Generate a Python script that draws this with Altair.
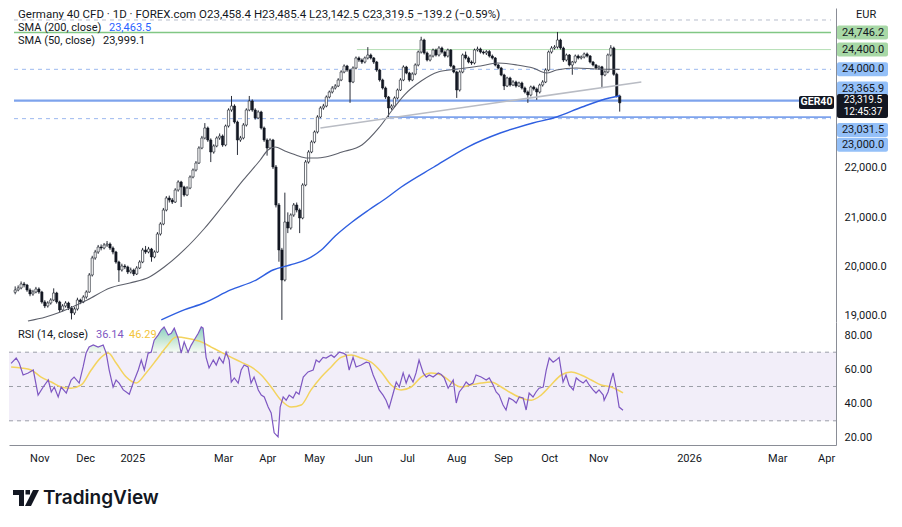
import altair as alt
import pandas as pd

# ---------------- data ----------------
opens = [19480, 19527, 19568, 19649, 19628, 19527, 19446, 19486, 19547, 19486,
         19284, 19203, 19263, 19324, 19466, 19284, 19122, 19203, 19263, 19162,
         19061, 19142, 19324, 19284, 19385, 19486, 19831, 20176, 20297, 20398,
         20378, 20439, 20459, 20378, 20297, 20094, 19932, 20013, 19993, 19892,
         19932, 19851, 19973, 20094, 20338, 20297, 20358, 20196, 20297, 20662,
         20865, 21148, 21392, 21351, 21310, 21554, 21716, 21615, 21453, 21594,
         21817, 21959, 22101, 22405, 22608, 22811, 22567, 22324, 22446, 22608,
         22648, 22466, 22851, 23176, 23256, 22932, 22567, 22608, 22871, 23176,
         23358, 23176, 23014, 23135, 22811, 22567, 22405, 22567, 22020, 21250,
         20338, 19729, 20905, 20784, 21047, 21250, 21148, 20986, 21655, 22121,
         22324, 22527, 22730, 23034, 23216, 23256, 23439, 23540, 23621, 23662,
         23784, 23946, 24067, 23986, 23743, 24027, 24230, 24189, 24148, 24230,
         24290, 24230, 24148, 23986, 23784, 23621, 23439, 23216, 23256, 23419,
         23581, 23784, 24047, 23925, 23784, 23905, 24088, 24351, 24594, 24331,
         24189, 24270, 24392, 24290, 24432, 24351, 24270, 24392, 24067, 23946,
         23581, 23946, 24290, 24230, 24148, 24128, 24392, 24412, 24351, 24331,
         24360, 24270, 24230, 24088, 24027, 23885, 23662, 23824, 23682, 23743,
         23662, 23723, 23621, 23540, 23480, 23642, 23601, 23540, 23682, 23743,
         23986, 24351, 24432, 24452, 24594, 24432, 24189, 24290, 24088, 24148,
         24270, 24230, 24250, 24311, 24270, 24148, 24088, 24027, 24050, 23885,
         23946, 24290, 24432, 23900, 23458.4]
highs = [19600, 19620, 19700, 19690, 19650, 19560, 19530, 19590, 19580, 19510,
         19320, 19300, 19360, 19560, 19490, 19310, 19240, 19300, 19290, 19200,
         19180, 19370, 19350, 19420, 19520, 19870, 20220, 20340, 20440, 20450,
         20480, 20520, 20490, 20410, 20320, 20120, 20060, 20050, 20020, 19980,
         19960, 20010, 20130, 20380, 20420, 20400, 20380, 20330, 20700, 20900,
         21190, 21430, 21440, 21390, 21590, 21750, 21740, 21640, 21630, 21850,
         21990, 22140, 22440, 22650, 22910, 22840, 22600, 22480, 22640, 22700,
         22680, 22880, 23210, 23460, 23290, 22960, 22650, 22910, 23210, 23460,
         23390, 23210, 23170, 23160, 22840, 22600, 22600, 22590, 22060, 21290,
         20380, 21500, 21100, 21080, 21290, 21300, 21180, 21690, 22160, 22360,
         22560, 22760, 23070, 23250, 23300, 23470, 23570, 23660, 23700, 23820,
         23980, 24100, 24090, 24010, 24060, 24260, 24260, 24220, 24260, 24450,
         24320, 24250, 24170, 24010, 23810, 23650, 23460, 23290, 23450, 23610,
         23820, 24080, 24070, 23950, 23940, 24120, 24380, 24660, 24620, 24360,
         24300, 24420, 24420, 24470, 24460, 24380, 24420, 24410, 24090, 23970,
         23980, 24320, 24360, 24260, 24180, 24420, 24460, 24440, 24380, 24390,
         24390, 24300, 24250, 24110, 24050, 23910, 23850, 23850, 23780, 23770,
         23750, 23750, 23650, 23570, 23670, 23670, 23630, 23710, 23780, 24020,
         24380, 24470, 24490, 24757, 24620, 24460, 24320, 24310, 24170, 24300,
         24300, 24280, 24340, 24340, 24290, 24170, 24110, 24080, 24070, 23980,
         24320, 24490, 24460, 23930, 23485.4]
lows = [19440, 19500, 19540, 19580, 19490, 19400, 19410, 19460, 19450, 19250,
        19160, 19170, 19230, 19300, 19250, 19080, 19090, 19170, 19120, 18930,
        19020, 19110, 19240, 19260, 19350, 19470, 19800, 20140, 20260, 20330,
        20350, 20400, 20340, 20250, 20060, 19690, 19900, 19950, 19850, 19860,
        19810, 19830, 19950, 20070, 20260, 20270, 20100, 20170, 20280, 20630,
        20840, 21120, 21300, 21270, 21290, 21520, 21210, 21420, 21430, 21570,
        21790, 21930, 22080, 22380, 22580, 22530, 22120, 22290, 22420, 22570,
        22430, 22440, 22820, 23140, 22900, 22264, 22530, 22580, 22840, 23150,
        23140, 22980, 22990, 22780, 22530, 22250, 22380, 21980, 21200, 20100,
        18920, 19700, 20680, 20750, 21010, 21100, 20680, 20960, 21630, 22090,
        22300, 22500, 22700, 23010, 23180, 23230, 23410, 23510, 23590, 23640,
        23760, 23920, 23950, 23320, 23720, 24000, 24150, 24110, 24120, 24200,
        24200, 24110, 23950, 23750, 23590, 23400, 23030, 23180, 23230, 23390,
        23560, 23760, 23900, 23750, 23760, 23880, 24060, 24320, 24300, 24160,
        24160, 24240, 24260, 24260, 24320, 24240, 24240, 24040, 23920, 23420,
        23550, 23920, 24200, 24120, 24090, 24100, 24360, 24320, 24300, 24290,
        24240, 24200, 24060, 24000, 23860, 23580, 23640, 23650, 23660, 23630,
        23640, 23590, 23510, 23320, 23450, 23570, 23380, 23510, 23650, 23720,
        23960, 24320, 24400, 24420, 24400, 24150, 24160, 24060, 23890, 24120,
        24200, 24200, 24220, 24240, 24120, 24060, 24000, 23990, 23620, 23860,
        23920, 24260, 23870, 23430, 23142.5]
closes = [19527, 19568, 19649, 19628, 19527, 19446, 19486, 19547, 19486, 19284,
          19203, 19263, 19324, 19466, 19284, 19122, 19203, 19263, 19162, 19061,
          19142, 19324, 19284, 19385, 19486, 19831, 20176, 20297, 20398, 20378,
          20439, 20459, 20378, 20297, 20094, 19932, 20013, 19993, 19892, 19932,
          19851, 19973, 20094, 20338, 20297, 20358, 20196, 20297, 20662, 20865,
          21148, 21392, 21351, 21310, 21554, 21716, 21615, 21453, 21594, 21817,
          21959, 22101, 22405, 22608, 22811, 22567, 22324, 22446, 22608, 22648,
          22466, 22851, 23176, 23256, 22932, 22567, 22608, 22871, 23176, 23358,
          23176, 23014, 23135, 22811, 22567, 22405, 22567, 22020, 21250, 20338,
          19729, 20905, 20784, 21047, 21250, 21148, 20986, 21655, 22121, 22324,
          22527, 22730, 23034, 23216, 23256, 23439, 23540, 23621, 23662, 23784,
          23946, 24067, 23986, 23743, 24027, 24230, 24189, 24148, 24230, 24290,
          24230, 24148, 23986, 23784, 23621, 23439, 23216, 23256, 23419, 23581,
          23784, 24047, 23925, 23784, 23905, 24088, 24351, 24594, 24331, 24189,
          24270, 24392, 24290, 24432, 24351, 24270, 24392, 24067, 23946, 23581,
          23946, 24290, 24230, 24148, 24128, 24392, 24412, 24351, 24331, 24360,
          24270, 24230, 24088, 24027, 23885, 23662, 23824, 23682, 23743, 23662,
          23723, 23621, 23540, 23480, 23642, 23601, 23540, 23682, 23743, 23986,
          24351, 24432, 24452, 24594, 24432, 24189, 24290, 24088, 24148, 24270,
          24230, 24250, 24311, 24270, 24148, 24088, 24027, 24050, 23885, 23946,
          24290, 24432, 23900, 23459, 23319.5]

sma50_bar = [4.3, 10.3, 15.3, 24.3, 32, 38.7, 45.3, 50.3, 57, 63.7, 70.3, 77, 82.7,
             85.3, 87.7, 91, 94.7, 98.7, 102, 104.7, 110.3, 117, 122.7, 127, 131.3,
             137, 142.7, 149.3, 157, 162.7, 169.3, 174.7, 179.3, 182.7, 189.3, 196, 204]
sma50_val = [18899, 18980, 19081, 19324, 19568, 19669, 19791, 19993, 20338, 20763,
             21250, 21757, 22162, 22365, 22425, 22344, 22263, 22202, 22202, 22222,
             22324, 22466, 22811, 23155, 23479, 23763, 23946, 24006, 24067, 24128,
             24088, 24027, 23925, 23986, 24027, 24006, 23999.1]
sma200_bar = [49.3, 57, 63.7, 72.7, 81.3, 87, 92.7, 98, 103.3, 108, 113.7, 119.3,
              125.3, 130.3, 141.3, 152.7, 163.7, 174.7, 182.7, 191.3, 198, 204]
sma200_val = [18919, 19122, 19263, 19527, 19729, 19932, 20034, 20135, 20338, 20621,
              20905, 21148, 21392, 21615, 22020, 22425, 22709, 22912, 23034, 23236,
              23378, 23463.5]
trend_bar = [103.0, 211.3]
trend_val = [22811, 23743]

level_price = [25000.0, 24746.2, 24400.0, 24000.0, 23365.9, 23031.5, 23000.0]
level_from = [-0.4, -0.4, 115.3, -0.4, -0.4, 126.3, -0.4]

badge_price = [24746.2, 24400.0, 24000.0, 23365.9, 23031.5, 23000.0]
last_price = 23319.5
last_time = "12:45:37"

rsi_bar = [0.3, 2, 3, 4.3, 6, 7.7, 9.3, 11, 12.7, 13.7,
           14.7, 16, 17, 18.7, 20.3, 21.3, 23, 24.3, 25.3, 26.3,
           27.7, 29.3, 31, 32, 33, 34.3, 35.3, 36.3, 37.7, 38.7,
           39.7, 41, 42.7, 43.7, 44.7, 46, 47, 48, 49.3, 50.3,
           51.3, 52.7, 53.7, 54.7, 56, 57, 58, 59.3, 60.3, 61.3,
           62.7, 63.7, 64.3, 65.3, 66.3, 67.7, 68.7, 69.7, 71, 72,
           73, 73.7, 74.7, 76, 77, 78, 79.3, 80.3, 81.3, 82.7,
           83.7, 84.7, 86, 87, 88, 89.3, 90, 91, 92, 93,
           94.3, 95.3, 96.3, 97.7, 99.3, 101, 102, 103, 104.3, 105.3,
           107, 108, 109.7, 111, 112, 113, 114.3, 115.3, 117, 118.7,
           119.7, 121, 122, 123, 124.3, 125.3, 126.3, 127.7, 128.7, 129.7,
           131, 132, 133, 134.3, 135.3, 136.3, 137.7, 138.7, 139.7, 141,
           142.7, 143.7, 144.7, 146, 147.7, 148.7, 149.7, 151, 152, 153,
           154.3, 155.3, 157, 158.7, 159.7, 161, 162, 163, 164.3, 165.3,
           166.3, 167.7, 168.7, 169.7, 171, 172, 173, 174.3, 175.3, 176.3,
           177.7, 178.7, 179.7, 181, 182, 183, 184.3, 185.3, 186.3, 187.7,
           188.7, 189.7, 191, 192, 193, 194.3, 195.3, 196.3, 197.7, 198,
           199.3, 200.3, 201, 202, 203, 204.3]
rsi_val = [63.5, 66.6, 63.7, 56.7, 57.9, 59.6, 45, 49.7, 53.8, 46.8,
           49.7, 43.9, 49.7, 46.2, 53.8, 55.5, 52, 61.4, 69.5, 73,
           74.2, 73, 74.2, 69.5, 59.6, 49.7, 53.8, 52, 48, 46.8,
           45.5, 52, 59.6, 65.4, 59.6, 69.5, 70, 77, 80, 82.9,
           84.7, 80, 81, 84, 78, 69.5, 76, 70, 74, 77,
           81, 84.7, 84, 67, 60.8, 65.4, 62.5, 67, 63.7, 70,
           65.4, 52.6, 55, 52, 59.6, 62.5, 61.4, 52, 55.5, 48,
           45, 43.9, 38, 34.6, 23, 20.6, 38, 43.9, 42, 45,
           43.3, 46.8, 45.5, 55.5, 58.5, 59.6, 65.4, 64.2, 67, 66.6,
           68.4, 67, 70, 69.5, 68.4, 59.6, 67, 61.4, 62.5, 64.2,
           63.7, 56.7, 52.6, 48, 45, 42, 37.4, 46.2, 52.6, 49.7,
           57.9, 52, 56.7, 52.6, 57.9, 65.4, 57.9, 55.5, 56.7, 55.5,
           57.9, 57, 55, 49, 53.8, 40.4, 46.8, 49.7, 52.6, 50.9,
           52, 56.7, 55.5, 53.8, 55, 50.9, 46.8, 45, 39.2, 36.3,
           43.3, 42, 40.4, 43.9, 43.3, 36.3, 46.2, 43.9, 46.8, 49,
           49.7, 59.6, 66.6, 64.2, 65.4, 67, 52.6, 56.7, 50.9, 48,
           55, 53.5, 52, 53.8, 50.9, 48, 46.2, 48, 45, 42,
           46.8, 53.8, 57.9, 49, 38, 36.14]
rsima_bar = [0.3, 3.7, 7, 10.3, 13.7, 17, 20.3, 23.7, 27, 30.3,
             32.7, 35.3, 38.7, 42, 45.3, 48.7, 52, 55.3, 59.3, 63.7,
             67, 70.3, 73.7, 77, 80.3, 83.7, 87, 90.3, 93.7, 97,
             100.3, 103.7, 107, 110.3, 113.7, 117, 120.3, 123.7, 127, 130.3,
             133.7, 137, 140.3, 143.7, 147, 150.3, 153.7, 157, 160.3, 163.7,
             167, 170.3, 173.7, 177, 180.3, 183.7, 187, 190.3, 193.7, 197,
             200.3, 204.3]
rsima_val = [61.4, 60.8, 59.6, 55.5, 52.6, 49.7, 49, 50.9, 59.6, 67,
             69.5, 63.7, 55.5, 52, 57.9, 65.4, 73, 78.8, 78, 76,
             73, 70, 67, 64.2, 61.4, 56.7, 49.7, 42, 38, 39.2,
             48, 55.5, 61.4, 67, 68.4, 66.6, 64.2, 58.5, 50.9, 48,
             49.7, 55.5, 57.9, 56.7, 52.6, 49.7, 50.9, 52, 52.6, 49.7,
             46.2, 43.3, 42, 45, 50.9, 56.7, 58.5, 56.7, 53.8, 50.9,
             49.7, 46.29]
rsi_levels = [70, 50, 30]
rsi_band = [30, 70]

month_pos = [9.7, 25, 40.7, 71, 85.7, 101.3, 117.7, 132.3, 148.7, 164.3, 179.7, 196,
             226.3, 255.7, 272]
month_labels = ["Nov", "Dec", "2025", "Mar", "Apr", "May", "Jun", "Jul", "Aug", "Sep",
                "Oct", "Nov", "2026", "Mar", "Apr"]
price_ticks = [19000, 20000, 21000, 22000]
rsi_ticks = [20, 40, 60, 80]

# ---------------- layout / style ----------------
W, H1, H2 = 827, 314, 123
X_MIN, X_MAX = -0.4, 275.3
P_MIN, P_MAX = 18878, 25243
R_MIN, R_MAX = 15.9, 87.6
FONT = "Roboto"
TXT = "#131722"
AXC = "#8a8d96"

xs = alt.Scale(domain=[X_MIN, X_MAX], nice=False, zero=False)
ys = alt.Scale(domain=[P_MIN, P_MAX], nice=False, zero=False)
rs = alt.Scale(domain=[R_MIN, R_MAX], nice=False, zero=False)

YAX = alt.Axis(orient="right", values=price_ticks, format=",.1f", title=None, grid=False,
               ticks=False, labelPadding=8, labelColor=TXT, labelFont=FONT, labelFontSize=11,
               domainColor=AXC, labelFlush=False, labelOverlap=False)
RAX = alt.Axis(orient="right", values=rsi_ticks, format=".2f", title=None, grid=False,
               ticks=False, labelPadding=8, labelColor=TXT, labelFont=FONT, labelFontSize=11,
               domainColor=AXC, labelFlush=False, labelOverlap=False)
pos_js = "[" + ",".join(str(p) for p in month_pos) + "]"
lab_js = "[" + ",".join("'" + m + "'" for m in month_labels) + "]"
XAX = alt.Axis(values=month_pos, labelExpr=f"{lab_js}[indexof({pos_js}, datum.value)]",
               title=None, grid=False, ticks=False, labelPadding=7, labelColor=TXT,
               labelFont=FONT, labelFontSize=11, domainColor=AXC, labelFlush=False,
               labelOverlap=False)


def px(f):
    return alt.X(f, type="quantitative", scale=xs, axis=None)


def py(f):
    return alt.Y(f, type="quantitative", scale=ys, axis=YAX)


def bx(f):
    return alt.X(f, type="quantitative", scale=xs, axis=XAX)


def ry(f):
    return alt.Y(f, type="quantitative", scale=rs, axis=RAX)


dummy = pd.DataFrame({"a": [0]})


def label(text, x, y, color=TXT, size=11, weight="normal", align="left", font=FONT):
    return alt.Chart(dummy).mark_text(text=text, align=align, baseline="middle", font=font,
                                      fontSize=size, color=color, fontWeight=weight).encode(
        x=alt.value(x), y=alt.value(y))


# ---------------- price pane ----------------
candles = pd.DataFrame({"bar": list(range(len(closes))), "open": opens, "high": highs,
                        "low": lows, "close": closes})

level_styles = [
    dict(color="#b7bdcc", strokeWidth=1, strokeDash=[4, 4]),
    dict(color="#81c784", strokeWidth=1.6),
    dict(color="#b5dfb5", strokeWidth=1),
    dict(color="#9cb9ef", strokeWidth=1, strokeDash=[4, 4]),
    dict(color="#7ea3ec", strokeWidth=2.2),
    dict(color="#7ea3ec", strokeWidth=1.6),
    dict(color="#9cb9ef", strokeWidth=1, strokeDash=[4, 4]),
]
top_layers = []
for p, b0, st in zip(level_price, level_from, level_styles):
    df = pd.DataFrame({"p": [p], "b0": [b0], "b1": [X_MAX]})
    top_layers.append(alt.Chart(df).mark_rule(**st).encode(x=px("b0"), x2="b1", y=py("p")))

top_layers.append(alt.Chart(candles).mark_rule(color="#2a2e39", strokeWidth=1).encode(
    x=px("bar"), y=py("low"), y2="high"))
top_layers.append(alt.Chart(candles).mark_bar(size=2.2, stroke="#131722", strokeWidth=0.6).encode(
    x=px("bar"), y=py("open"), y2="close",
    color=alt.condition("datum.close >= datum.open", alt.value("#ffffff"), alt.value("#131722"))))

sma50 = pd.DataFrame({"bar": sma50_bar, "v": sma50_val})
sma200 = pd.DataFrame({"bar": sma200_bar, "v": sma200_val})
trend = pd.DataFrame({"bar": trend_bar, "v": trend_val})
top_layers.append(alt.Chart(sma50).mark_line(color="#5d606b", strokeWidth=1.1, interpolate="monotone",
                                             clip=True).encode(x=px("bar"), y=py("v")))
top_layers.append(alt.Chart(sma200).mark_line(color="#2f5fe0", strokeWidth=1.4, interpolate="monotone",
                                              clip=True).encode(x=px("bar"), y=py("v")))
top_layers.append(alt.Chart(trend).mark_line(color="#b9bcc4", strokeWidth=1.6).encode(
    x=px("bar"), y=py("v")))

# price badges on the scale
badge_styles = [("#a8d8a6", 0), ("#a8d8a6", 0), ("#94c0f8", 0), ("#94c0f8", -12),
                ("#94c0f8", 13), ("#94c0f8", 26)]
for p, (fill, sh) in zip(badge_price, badge_styles):
    df = pd.DataFrame({"p": [p], "t": [f"{p:,.1f}"]})
    top_layers.append(alt.Chart(df).mark_rect(color=fill, yOffset=sh - 7, y2Offset=sh + 7,
                                              cornerRadius=2).encode(
        x=alt.value(828), x2=alt.value(879), y=py("p"), y2="p"))
    top_layers.append(alt.Chart(df).mark_text(font=FONT, fontSize=11, color=TXT, align="center",
                                              baseline="middle", dy=sh).encode(
        x=alt.value(854), y=py("p"), text="t:N"))

last = pd.DataFrame({"p": [last_price], "t": [f"{last_price:,.1f}"], "tm": [last_time],
                     "sym": ["GER40"]})
top_layers.append(alt.Chart(last).mark_rect(color="#131722", yOffset=-9, y2Offset=15,
                                            cornerRadius=2).encode(
    x=alt.value(828), x2=alt.value(879), y=py("p"), y2="p"))
top_layers.append(alt.Chart(last).mark_rect(color="#131722", yOffset=-7, y2Offset=6,
                                            cornerRadius=2).encode(
    x=alt.value(790), x2=alt.value(825), y=py("p"), y2="p"))
top_layers.append(alt.Chart(last).mark_text(font=FONT, fontSize=10, color="#ffffff", align="center",
                                            baseline="middle", dy=-3).encode(
    x=alt.value(854), y=py("p"), text="t:N"))
top_layers.append(alt.Chart(last).mark_text(font=FONT, fontSize=10, color="#ffffff", align="center",
                                            baseline="middle", dy=9).encode(
    x=alt.value(854), y=py("p"), text="tm:N"))
top_layers.append(alt.Chart(last).mark_text(font=FONT, fontSize=10.5, color="#ffffff", align="center",
                                            baseline="middle", fontWeight="bold", dy=-0.5).encode(
    x=alt.value(807.5), y=py("p"), text="sym:N"))

# legend / header text
top_layers += [
    label("Germany 40 CFD · 1D · FOREX.com   O23,458.4  H23,485.4  L23,142.5  C23,319.5  −139.2 (−0.59%)",
          9, 7, size=11.5),
    label("SMA (200, close)", 9, 19.5),
    label("23,463.5", 100, 19.5, color="#2962ff"),
    label("SMA (50, close)", 9, 33),
    label("23,999.1", 94, 33),
    label("EUR", 847, 7),
]

top = alt.layer(*top_layers).properties(width=W, height=H1)

# ---------------- RSI pane ----------------
band = pd.DataFrame({"b0": [X_MIN], "b1": [X_MAX], "lo": [rsi_band[0]], "hi": [rsi_band[1]]})
lv = pd.DataFrame({"v": rsi_levels, "b0": [X_MIN] * len(rsi_levels), "b1": [X_MAX] * len(rsi_levels)})
rsi = pd.DataFrame({"bar": rsi_bar, "v": rsi_val})
rsima = pd.DataFrame({"bar": rsima_bar, "v": rsima_val})

bot_layers = [
    alt.Chart(band).mark_rect(color="#f2eef9").encode(x=bx("b0"), x2="b1", y=ry("hi"), y2="lo"),
    alt.Chart(lv).mark_rule(color="#9c9fa8", strokeWidth=1, strokeDash=[4, 4]).encode(
        x=bx("b0"), x2="b1", y=ry("v")),
    alt.Chart(rsi).transform_calculate(top="max(datum.v, 70)", base="70").mark_area(
        color=alt.Gradient(gradient="linear", x1=0, x2=0, y1=0, y2=1,
                           stops=[alt.GradientStop(color="rgba(38,166,154,0.55)", offset=0),
                                  alt.GradientStop(color="rgba(76,175,80,0.05)", offset=1)])).encode(
        x=bx("bar"), y=ry("top:Q"), y2="base:Q"),
    alt.Chart(rsima).mark_line(color="#f3d35e", strokeWidth=1.5, interpolate="monotone").encode(
        x=bx("bar"), y=ry("v")),
    alt.Chart(rsi).mark_line(color="#7e57c2", strokeWidth=1.2).encode(x=bx("bar"), y=ry("v")),
    label("RSI (14, close)", 9, 13),
    label("36.14", 87, 13, color="#7e57c2"),
    label("46.29", 120, 13, color="#f3c43a"),
]

LOGO = ("M-1,-0.615L-0.154,-0.615L-0.154,0.615L-0.538,0.615L-0.538,-0.231L-1,-0.231Z"
        "M-0.04,-0.615L0.31,-0.615L0.31,-0.27L-0.04,-0.27Z"
        "M0.54,-0.615L1,-0.615L0.385,0.615L-0.077,0.615Z")
bot_layers.append(alt.Chart(dummy).mark_point(shape=LOGO, size=676, filled=True, color="#131722",
                                              opacity=1, strokeWidth=0).encode(
    x=alt.value(17), y=alt.value(176)))
bot_layers.append(label("TradingView", 34, 176, size=19, weight=600, font="Inter"))

bottom = alt.layer(*bot_layers).properties(width=W, height=H2)

chart = alt.vconcat(top, bottom, spacing=0).properties(padding=0, background="white").configure_view(
    stroke=None)

chart.save("out.html", embed_options={"renderer": "svg", "actions": False})
